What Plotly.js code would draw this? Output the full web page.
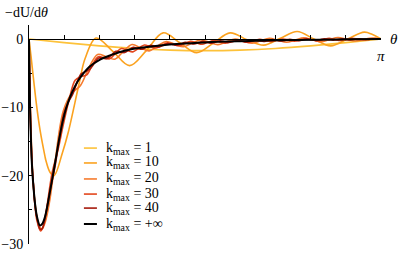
<!DOCTYPE html>
<html>
<head>
<meta charset="utf-8">
<script src="https://cdn.plot.ly/plotly-3.0.1.min.js"></script>
<style>html,body{margin:0;padding:0;background:#fff;}#chart{width:399px;height:254px;}</style>
</head>
<body>
<div id="chart"></div>
<script>
// theta given in units of pi (0 .. 1)
const labels = ["k<sub>max</sub> = 1", "k<sub>max</sub> = 10", "k<sub>max</sub> = 20", "k<sub>max</sub> = 30", "k<sub>max</sub> = 40", "k<sub>max</sub> = +∞"];

const th1 = [0,0.1,0.2,0.3,0.4,0.5,0.6,0.7,0.8,0.9,1.0];
const v1 = [0,-0.53,-1.0,-1.38,-1.62,-1.7,-1.62,-1.38,-1.0,-0.53,0];

const th10 = [0,0.0057,0.0142,0.0227,0.0313,0.0455,0.0476,0.0597,0.071,0.0952,0.1108,0.1429,0.1591,0.1905,0.2381,0.2857,0.3333,0.381,0.4286,0.4762,0.5238,0.5714,0.619,0.6667,0.7143,0.7619,0.8095,0.8571,0.9048,0.9524,0.9744,1.0];
const v10 = [0,-2.5,-6.5,-10.2,-13.3,-17.2,-17.7,-19.5,-20.0,-16.6,-13.8,-6.4,-2.9,0.15,-1.8,-3.9,-1.7,0.9,-0.55,-2.0,-0.6,0.9,-0.1,-0.9,0.1,1.1,0.0,-1.0,0.0,1.0,0.7,0];

const th20 = [0,0.0028,0.0057,0.0085,0.0114,0.017,0.0244,0.0313,0.0369,0.0426,0.0488,0.0597,0.0732,0.0976,0.122,0.1463,0.1707,0.1951,0.2195,0.2439,0.2683,0.2927,0.3171,0.3415,0.3659,0.3902,0.4146,0.439,0.4634,0.4878,0.5122,0.5366,0.561,0.5854,0.6098,0.6341,0.6585,0.6829,0.7073,0.7317,0.7561,0.7805,0.8049,0.8293,0.8537,0.878,0.9024,0.9268,0.9512,0.9756,1.0];
const v20 = [0,-8,-13.5,-17.5,-20.5,-24,-26.6,-27.6,-27.8,-27.3,-26.3,-23.4,-18.3,-10.5,-7.9,-6.8,-4.15,-2.25,-2.6,-2.95,-1.8,-0.8,-1.3,-1.74,-1.0,-0.37,-0.76,-1.12,-0.6,-0.14,-0.48,-0.82,-0.4,-0.01,-0.32,-0.61,-0.25,0.11,-0.19,-0.47,-0.15,0.17,-0.11,-0.4,-0.085,0.21,-0.055,-0.29,-0.03,0.13,0];

const th30 = [0,0.0028,0.0057,0.0085,0.0114,0.0164,0.0227,0.0328,0.0397,0.0492,0.0656,0.082,0.0984,0.1148,0.1311,0.1475,0.1639,0.1803,0.1967,0.2131,0.2295,0.2459,0.2623,0.2787,0.2951,0.3115,0.3279,0.3443,0.3607,0.377,0.3934,0.4098,0.4262,0.4426,0.459,0.4754,0.4918,0.5082,0.5246,0.541,0.5574,0.5738,0.5902,0.6066,0.623,0.6393,0.6557,0.6721,0.6885,0.7049,0.7213,0.7377,0.7541,0.7705,0.7869,0.8033,0.8197,0.8361,0.8525,0.8689,0.8852,0.9016,0.918,0.9344,0.9508,0.9672,0.9836,1.0];
const v30 = [0,-9,-14.5,-18.2,-20.6,-24.0,-26.6,-28.1,-27.5,-25.1,-19.6,-16.3,-12.3,-8.7,-6.05,-5.5,-5.25,-3.75,-2.6,-2.75,-2.9,-2.1,-1.4,-1.65,-1.88,-1.35,-0.87,-1.12,-1.32,-0.93,-0.55,-0.78,-0.99,-0.66,-0.35,-0.56,-0.77,-0.48,-0.23,-0.42,-0.61,-0.37,-0.14,-0.32,-0.49,-0.27,-0.05,-0.23,-0.39,-0.19,0.01,-0.16,-0.33,-0.14,0.06,-0.11,-0.27,-0.09,0.09,-0.07,-0.22,-0.055,0.1,-0.035,-0.15,-0.02,0.07,0];

const th40 = [0,0.0028,0.0057,0.0085,0.0123,0.017,0.0247,0.0313,0.037,0.0426,0.0494,0.0617,0.0741,0.0864,0.0988,0.1111,0.1235,0.1358,0.1481,0.1605,0.1728,0.1852,0.1975,0.2099,0.2222,0.2346,0.2469,0.2593,0.2716,0.284,0.2963,0.3086,0.321,0.3333,0.3457,0.358,0.3704,0.3827,0.3951,0.4074,0.4198,0.4321,0.4444,0.4568,0.4691,0.4815,0.4938,0.5062,0.5185,0.5309,0.5432,0.5556,0.5679,0.5802,0.5926,0.6049,0.6173,0.6296,0.642,0.6543,0.6667,0.679,0.6914,0.7037,0.716,0.7284,0.7407,0.7531,0.7654,0.7778,0.7901,0.8025,0.8148,0.8272,0.8395,0.8519,0.8642,0.8765,0.8889,0.9012,0.9136,0.9259,0.9383,0.9506,0.963,0.9753,0.9877,1.0];
const v40 = [0,-9.3,-14.8,-18.4,-21.2,-24.3,-26.7,-27.8,-27.8,-27.0,-25.2,-21.7,-18.6,-14.5,-10.95,-9.3,-8.15,-6.45,-5.1,-4.75,-4.4,-3.6,-2.8,-2.82,-2.85,-2.32,-1.8,-1.89,-1.98,-1.58,-1.22,-1.37,-1.49,-1.19,-0.91,-1.04,-1.16,-0.9,-0.67,-0.79,-0.92,-0.69,-0.48,-0.61,-0.73,-0.53,-0.35,-0.48,-0.61,-0.43,-0.26,-0.39,-0.51,-0.35,-0.19,-0.32,-0.44,-0.28,-0.13,-0.25,-0.36,-0.21,-0.07,-0.19,-0.3,-0.17,-0.04,-0.15,-0.26,-0.13,0.0,-0.11,-0.21,-0.1,0.02,-0.085,-0.175,-0.07,0.04,-0.055,-0.14,-0.04,0.045,-0.03,-0.08,-0.015,0.02,0];

const thInf = [0,0.0014,0.0028,0.0057,0.0085,0.0114,0.017,0.0227,0.0313,0.0369,0.0455,0.0597,0.0739,0.0824,0.0881,0.0966,0.1051,0.1165,0.1307,0.1449,0.1733,0.2017,0.2301,0.2585,0.2869,0.3239,0.3722,0.429,0.5,0.5994,0.7131,0.8267,0.9119,1.0];
const vInf = [0,-5,-9.5,-15,-18.5,-20.8,-24,-26,-27.3,-27.1,-26.0,-22.3,-18.2,-15.6,-14.0,-11.9,-10.2,-8.5,-6.9,-5.7,-4.0,-3.0,-2.4,-1.9,-1.55,-1.25,-0.95,-0.7,-0.5,-0.33,-0.18,-0.1,-0.05,0];

const colors = ["#FDC23A", "#FBA21F", "#F67B2E", "#E3461C", "#A61A0C", "#000000"];
const widths = [1.6, 1.6, 1.6, 1.6, 1.6, 2.0];
const xs = [th1, th10, th20, th30, th40, thInf];
const ys = [v1, v10, v20, v30, v40, vInf];

const traces = xs.map((x, i) => ({
  x: x, y: ys[i], type: 'scatter', mode: 'lines', name: labels[i],
  line: {color: colors[i], width: widths[i], shape: 'spline', smoothing: 1},
  showlegend: false, hoverinfo: 'skip'
}));

const serif = 'Liberation Serif, Times New Roman, serif';
const yMin = -30, yMax = 2.05;

// manual legend
const legRows = [0.438, 0.370, 0.297, 0.228, 0.164, 0.0913];
const shapes = legRows.map((yy, i) => ({
  type: 'line', xref: 'paper', yref: 'paper', x0: 0.156, x1: 0.193, y0: yy, y1: yy,
  line: {color: colors[i], width: widths[i]}
}));
const annotations = legRows.map((yy, i) => ({
  xref: 'paper', yref: 'paper', x: 0.213, y: yy, xanchor: 'left', yanchor: 'middle',
  text: labels[i], showarrow: false, font: {family: serif, size: 14, color: '#000'}
}));
annotations.push({xref: 'paper', yref: 'paper', x: -0.074, y: 1.059, xanchor: 'left', yanchor: 'middle',
  text: '−dU/d<i>θ</i>', showarrow: false, font: {family: serif, size: 14, color: '#000'}});
annotations.push({xref: 'paper', yref: 'paper', x: 1.02, y: (0 - yMin) / (yMax - yMin), xanchor: 'left', yanchor: 'middle',
  text: '<i>θ</i>', showarrow: false, font: {family: serif, size: 15, color: '#000'}});
annotations.push({xref: 'x', yref: 'paper', x: 1.0, y: (0 - yMin) / (yMax - yMin) - 0.03, xanchor: 'center', yanchor: 'top',
  text: '<i>π</i>', showarrow: false, font: {family: serif, size: 15, color: '#000'}});

const layout = {
  width: 399, height: 254,
  margin: {l: 29, r: 18, t: 25, b: 10, pad: 0},
  paper_bgcolor: '#fff', plot_bgcolor: '#fff',
  showlegend: false,
  xaxis: {
    range: [0, 1.0], anchor: 'free', position: (0 - yMin) / (yMax - yMin),
    showline: true, linecolor: '#000', linewidth: 1,
    showgrid: false, zeroline: false,
    tickmode: 'array', tickvals: [0.1,0.2,0.3,0.4,0.5,0.6,0.7,0.8,0.9,1.0],
    ticks: 'inside', ticklen: 4, tickcolor: '#000', tickwidth: 1,
    showticklabels: false
  },
  yaxis: {
    range: [yMin, yMax],
    showline: true, linecolor: '#000', linewidth: 1,
    showgrid: false, zeroline: false,
    tickmode: 'array', tickvals: [0, -10, -20, -30], ticktext: ['0', '−10', '−20', '−30'],
    ticks: 'inside', ticklen: 4, tickcolor: '#000', tickwidth: 1,
    minor: {tickmode: 'array', tickvals: [-5, -15, -25], ticks: 'inside', ticklen: 3, tickcolor: '#000'},
    tickfont: {family: serif, size: 14, color: '#000'},
    ticklabelstandoff: 2
  },
  shapes: shapes,
  annotations: annotations
};

Plotly.newPlot('chart', traces, layout, {staticPlot: true, displayModeBar: false});
</script>
</body>
</html>
